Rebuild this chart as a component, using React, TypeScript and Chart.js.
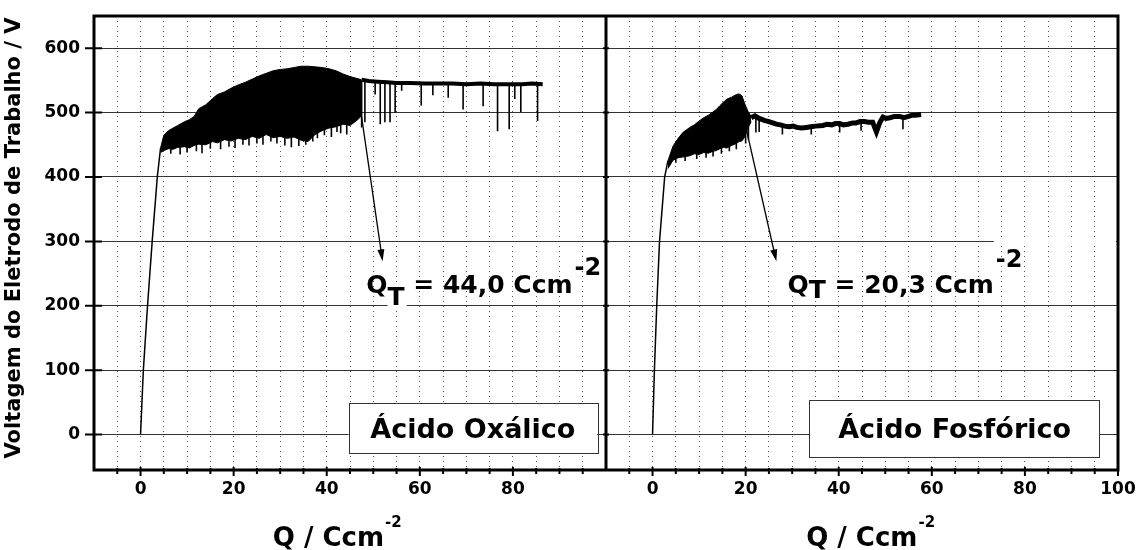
import React, { useEffect, useRef } from 'react';
import { Chart, registerables } from 'chart.js';

Chart.register(...registerables);

// ---------- Data ----------
// Ácido Oxálico panel
const oxRiseQ = [0, 0.6, 1.5, 2.5, 3.6, 4.3];
const oxRiseV = [0, 100, 200, 300, 400, 445];
const oxBandQ = [4.3, 5, 6, 7, 8, 9.5, 10.5, 11.5, 12.5, 14, 15.5, 16.5, 18, 19.5, 21, 22.5, 24, 25.5, 27, 28.5, 30, 31.5, 33, 34.5, 36, 37.5, 39, 40.5, 42, 43.5, 45, 46.5, 47.5];
const oxBandHigh = [445, 465, 472, 476, 480, 486, 489, 494, 506, 512, 522, 528, 532, 538, 543, 547, 552, 557, 561, 565, 567, 568, 570, 572, 572, 571, 570, 568, 565, 560, 556, 553, 551];
const oxBandLow = [438, 441, 444, 443, 446, 447, 445, 449, 451, 450, 455, 453, 458, 456, 460, 458, 463, 460, 466, 461, 463, 460, 462, 457, 455, 466, 472, 476, 478, 482, 480, 488, 495];
const oxFlatQ = [47.5, 49, 51, 53, 55, 58, 61, 64, 67, 70, 73, 76, 79, 82, 84, 86.4];
const oxFlatV = [551, 549, 548, 547, 546, 546, 545, 545, 545, 544, 545, 544, 544, 544, 545, 544];
const oxSpikeQ = [6.5, 8.5, 10, 12, 13.2, 15, 17.2, 19, 20.3, 22, 23.3, 25, 26.3, 28, 29.3, 31, 32.4, 34, 35.5, 37, 38, 39.5, 41, 42.2, 43, 44.3, 45.0, 46.1, 46.8, 47.5, 48.2, 50.4, 51.5, 52.5, 53.6, 54.7, 56.1, 60.3, 62.8, 66.1, 69.3, 73.6, 76.7, 79.2, 80.4, 81.7, 85.3];
const oxSpikeTop = [463, 466, 466, 470, 470, 473, 475, 477, 479, 479, 481, 481, 483, 483, 482, 481, 481, 478, 476, 482, 490, 494, 497, 499, 501, 552, 552, 551, 551, 550, 550, 548, 547, 547, 547, 546, 546, 545, 545, 545, 545, 544, 544, 544, 544, 544, 544];
const oxSpikeLow = [436, 435, 438, 440, 437, 444, 443, 447, 445, 450, 449, 452, 450, 455, 452, 449, 446, 448, 450, 455, 460, 465, 462, 470, 468, 466, 490, 492, 500, 477, 485, 528, 482, 485, 485, 500, 534, 511, 527, 523, 505, 510, 471, 474, 521, 501, 487];

// Ácido Fosfórico panel
const phRiseQ = [0, 0.4, 0.9, 1.5, 2.6, 3.3];
const phRiseV = [0, 100, 200, 300, 400, 425];
const phBandQ = [3.3, 4.4, 5.5, 6.5, 8, 9, 10, 11, 12, 13, 13.7, 14.5, 15.2, 16, 17, 18, 18.6, 19.2, 19.8, 20.5, 21.2];
const phBandHigh = [425, 448, 460, 469, 477, 481, 487, 492, 496, 501, 505, 511, 516, 521, 524, 528, 529, 526, 514, 502, 494];
const phBandLow = [413, 426, 430, 431, 433, 436, 435, 438, 437, 440, 441, 444, 446, 445, 449, 452, 455, 456, 462, 476, 486];
const phFlatQ = [21.2, 22, 22.9, 24, 25, 25.8, 26.6, 27.5, 28.4, 29.4, 30.2, 31, 32, 33, 34, 35, 36.6, 37.5, 38.5, 39.3, 40.2, 41, 42, 43, 43.7, 44.6, 45.5, 46.4, 47.3, 48.1, 48.8, 49.5, 50.2, 51, 52, 53.1, 54, 55, 55.8, 56.5, 57.7];
const phFlatV = [492, 495, 491, 488, 486, 484, 482, 481, 479, 478, 479, 477, 476, 477, 478, 479, 480, 482, 481, 483, 483, 481, 482, 484, 484, 486, 486, 485, 485, 470, 484, 493, 491, 492, 494, 494, 492, 494, 496, 496, 497];
const phSpikeQ = [5, 7, 9.5, 11.5, 13, 14.8, 16.5, 18, 20.0, 20.6, 22.2, 22.9, 27.9, 34.1, 40.2, 44.8, 53.8];
const phSpikeTop = [440, 445, 450, 452, 455, 460, 462, 465, 480, 485, 490, 489, 481, 477, 482, 484, 493];
const phSpikeLow = [422, 425, 428, 430, 432, 436, 440, 443, 452, 458, 469, 470, 466, 466, 469, 472, 474];

// Axes / ticks
const yTicks = [0, 100, 200, 300, 400, 500, 600];
const xTicksOx = [-5, 0, 5, 10, 15, 20, 25, 30, 35, 40, 45, 50, 55, 60, 65, 70, 75, 80, 85, 90, 95];
const xTicksPh = [-5, 0, 5, 10, 15, 20, 25, 30, 35, 40, 45, 50, 55, 60, 65, 70, 75, 80, 85, 90, 95, 100];
const xLabelsOx = [0, 20, 40, 60, 80];
const xLabelsPh = [0, 20, 40, 60, 80, 100];

// Texts
const yTitle = 'Voltagem do Eletrodo de Trabalho / V';
const xTitle = 'Q / Ccm';
const xTitleSup = '-2';
const qtOx = '44,0';
const qtPh = '20,3';
const boxOx = 'Ácido Oxálico';
const boxPh = 'Ácido Fosfórico';

const FONT = "'DejaVu Sans', sans-serif";

function pts(q: number[], v: number[]) {
  return q.map((x, i) => ({ x, y: v[i] }));
}
function spikes(q: number[], top: number[], low: number[]) {
  const out: any[] = [];
  q.forEach((x, i) => {
    out.push({ x, y: top[i] }, { x, y: low[i] }, { x, y: null });
  });
  return out;
}

const line = (data: any[], axis: string, width: number) => ({
  data,
  xAxisID: axis,
  yAxisID: 'y',
  borderColor: '#000',
  backgroundColor: '#000',
  borderWidth: width,
  pointRadius: 0,
  tension: 0,
  fill: false,
  spanGaps: false,
});

const annotPlugin = {
  id: 'annot',
  afterDraw(chart: any) {
    const ctx = chart.ctx as CanvasRenderingContext2D;
    const { left, right, top, bottom } = chart.chartArea;
    const sx1 = chart.scales.x1;
    const sx2 = chart.scales.x2;
    const sy = chart.scales.y;
    const mid = sx1.right;
    ctx.save();

    // boxes
    const drawBox = (sx: any, q0: number, q1: number, v0: number, v1: number, label: string) => {
      const x0 = sx.getPixelForValue(q0);
      const x1 = sx.getPixelForValue(q1);
      const y0 = sy.getPixelForValue(v0);
      const y1 = sy.getPixelForValue(v1);
      ctx.fillStyle = '#fff';
      ctx.fillRect(x0, y0, x1 - x0, y1 - y0);
      ctx.strokeStyle = '#333';
      ctx.lineWidth = 1;
      ctx.strokeRect(Math.round(x0) + 0.5, Math.round(y0) + 0.5, Math.round(x1 - x0), Math.round(y1 - y0));
      ctx.fillStyle = '#000';
      ctx.font = `bold 27px ${FONT}`;
      ctx.textAlign = 'center';
      ctx.textBaseline = 'alphabetic';
      ctx.fillText(label, (x0 + x1) / 2, (y0 + y1) / 2 + 10);
    };
    drawBox(sx1, 44.7, 98.1, 49, -28.6, boxOx);
    drawBox(sx2, 33.7, 96.1, 53.7, -34.8, boxPh);

    // arrows
    const arrow = (sx: any, qa: number, va: number, qb: number, vb: number) => {
      const ax = sx.getPixelForValue(qa), ay = sy.getPixelForValue(va);
      const bx = sx.getPixelForValue(qb), by = sy.getPixelForValue(vb);
      const ang = Math.atan2(by - ay, bx - ax);
      const L = 12, W = 3.5;
      ctx.strokeStyle = '#000';
      ctx.lineWidth = 1.3;
      ctx.beginPath();
      ctx.moveTo(ax, ay);
      ctx.lineTo(bx - Math.cos(ang) * L * 0.8, by - Math.sin(ang) * L * 0.8);
      ctx.stroke();
      ctx.fillStyle = '#000';
      ctx.beginPath();
      ctx.moveTo(bx, by);
      ctx.lineTo(bx - Math.cos(ang) * L - Math.sin(ang) * W, by - Math.sin(ang) * L + Math.cos(ang) * W);
      ctx.lineTo(bx - Math.cos(ang) * L + Math.sin(ang) * W, by - Math.sin(ang) * L - Math.cos(ang) * W);
      ctx.closePath();
      ctx.fill();
    };
    arrow(sx1, 47.5, 493, 52.0, 269);
    arrow(sx2, 19.9, 482, 26.6, 269);

    // Q_T labels
    const qt = (sx: any, q: number, v: number, num: string, subDy: number, supDy: number, maskSubBg: boolean, maskSupToEdge: boolean) => {
      const x = sx.getPixelForValue(q);
      const y = sy.getPixelForValue(v);
      ctx.textAlign = 'left';
      ctx.textBaseline = 'alphabetic';
      ctx.font = `bold 25px ${FONT}`;
      ctx.fillStyle = '#000';
      ctx.fillText('Q', x, y);
      let cx = x + ctx.measureText('Q').width;
      const tw = ctx.measureText('T').width;
      if (maskSubBg) {
        ctx.fillStyle = '#fff';
        ctx.fillRect(cx, y + subDy - 20, tw + 2, 22);
        ctx.fillStyle = '#000';
      }
      ctx.fillText('T', cx, y + subDy);
      cx += tw;
      const main = ` = ${num} Ccm`;
      ctx.fillText(main, cx, y);
      cx += ctx.measureText(main).width + 2;
      ctx.font = `bold 24px ${FONT}`;
      if (maskSupToEdge) {
        const lineY = sy.getPixelForValue(300);
        ctx.fillStyle = '#fff';
        ctx.fillRect(cx - 2, lineY - 2, right - 2 - (cx - 2), 4);
        ctx.fillStyle = '#000';
      }
      ctx.fillText('-2', cx, y + supDy);
    };
    qt(sx1, 48.5, 220, qtOx, 12, -18, true, false);
    qt(sx2, 29.0, 220, qtPh, 5, -26, false, true);

    // frame
    ctx.strokeStyle = '#000';
    ctx.lineWidth = 3;
    ctx.strokeRect(left, top, right - left, bottom - top);
    ctx.beginPath();
    ctx.moveTo(mid, top);
    ctx.lineTo(mid, bottom);
    ctx.stroke();

    // y tick marks
    ctx.lineWidth = 2;
    yTicks.forEach((v) => {
      const py = sy.getPixelForValue(v);
      ctx.beginPath();
      ctx.moveTo(left - 9, py);
      ctx.lineTo(left + 8, py);
      ctx.moveTo(mid - 3, py);
      ctx.lineTo(mid + 3, py);
      ctx.stroke();
    });
    // x tick marks
    const xt = (sx: any, ticks: number[], labeled: number[]) => {
      ticks.forEach((v) => {
        const px = sx.getPixelForValue(v);
        const major = labeled.includes(v);
        ctx.beginPath();
        ctx.moveTo(px, bottom - (major ? 3 : 2));
        ctx.lineTo(px, bottom + (major ? 6 : 4));
        ctx.stroke();
      });
    };
    xt(sx1, xTicksOx, xLabelsOx);
    xt(sx2, xTicksPh, xLabelsPh);

    // axis titles
    ctx.fillStyle = '#000';
    ctx.font = `bold 21px ${FONT}`;
    ctx.textAlign = 'center';
    ctx.textBaseline = 'middle';
    ctx.save();
    ctx.translate(15, (top + bottom) / 2 - 5);
    ctx.rotate(-Math.PI / 2);
    ctx.fillText(yTitle, 0, 0);
    ctx.restore();

    const xt2 = (sx: any, q: number) => {
      const x = sx.getPixelForValue(q);
      const y = chart.height - 4;
      ctx.textAlign = 'left';
      ctx.textBaseline = 'alphabetic';
      ctx.font = `bold 26px ${FONT}`;
      ctx.fillText(xTitle, x, y);
      const w = ctx.measureText(xTitle).width;
      ctx.font = `bold 15px ${FONT}`;
      ctx.fillText(xTitleSup, x + w + 1, y - 19);
    };
    xt2(sx1, 28.4);
    xt2(sx2, 33.0);

    ctx.restore();
  },
};

export default function App() {
  const ref = useRef<HTMLCanvasElement | null>(null);

  useEffect(() => {
    if (!ref.current) return;
    Chart.defaults.font.family = FONT;
    const xScale = (ticks: number[], labeled: number[]) => ({
      type: 'linear',
      position: 'bottom',
      stack: 'xs',
      stackWeight: 1,
      min: -10,
      max: 100,
      afterBuildTicks: (s: any) => {
        s.ticks = ticks.map((v) => ({ value: v }));
      },
      afterFit: (s: any) => {
        s.height = 80;
        s.paddingLeft = 0;
        s.paddingRight = 0;
        s.paddingTop = 0;
        s.paddingBottom = 0;
      },
      grid: {
        drawTicks: false,
        color: (c: any) => (c.tick && c.tick.value === 100 ? 'rgba(0,0,0,0)' : '#555'),
        lineWidth: 1,
      },
      border: { display: false, dash: [1, 4] },
      ticks: {
        autoSkip: false,
        maxRotation: 0,
        minRotation: 0,
        padding: 9,
        color: '#000',
        font: { family: FONT, size: 17, weight: 'bold' },
        callback: (v: any) => (labeled.includes(Number(v)) ? String(v) : ''),
      },
    });

    const chart = new Chart(ref.current, {
      type: 'line',
      data: {
        datasets: [
          line(pts(oxRiseQ, oxRiseV), 'x1', 1.5),
          line(pts(oxBandQ, oxBandHigh), 'x1', 1),
          { ...line(pts(oxBandQ, oxBandLow), 'x1', 1), fill: '-1' },
          line(pts(oxFlatQ, oxFlatV), 'x1', 4),
          line(spikes(oxSpikeQ, oxSpikeTop, oxSpikeLow), 'x1', 1.6),
          line(pts(phRiseQ, phRiseV), 'x2', 1.5),
          line(pts(phBandQ, phBandHigh), 'x2', 1),
          { ...line(pts(phBandQ, phBandLow), 'x2', 1), fill: '-1' },
          line(pts(phFlatQ, phFlatV), 'x2', 5),
          line(spikes(phSpikeQ, phSpikeTop, phSpikeLow), 'x2', 1.6),
        ] as any,
      },
      options: {
        responsive: false,
        animation: false,
        events: [],
        layout: { padding: { top: 16, right: 23, bottom: 0, left: 0 } },
        plugins: { legend: { display: false }, tooltip: { enabled: false } },
        scales: {
          x1: xScale(xTicksOx, xLabelsOx) as any,
          x2: xScale(xTicksPh, xLabelsPh) as any,
          y: {
            type: 'linear',
            position: 'left',
            min: -55,
            max: 650,
            afterBuildTicks: (s: any) => {
              s.ticks = yTicks.map((v) => ({ value: v }));
            },
            afterFit: (s: any) => {
              s.width = 94;
              s.paddingLeft = 0;
              s.paddingRight = 0;
              s.paddingTop = 0;
              s.paddingBottom = 0;
            },
            grid: { drawTicks: false, color: '#333', lineWidth: 1 },
            border: { display: false },
            ticks: {
              padding: 14,
              color: '#000',
              font: { family: FONT, size: 17, weight: 'bold' },
            },
          } as any,
        },
      },
      plugins: [annotPlugin],
    });
    return () => chart.destroy();
  }, []);

  return (
    <div style={{ position: 'absolute', left: 0, top: 0, width: 1141, height: 550, background: '#fff' }}>
      <canvas ref={ref} width={1141} height={550} style={{ display: 'block' }} />
    </div>
  );
}
